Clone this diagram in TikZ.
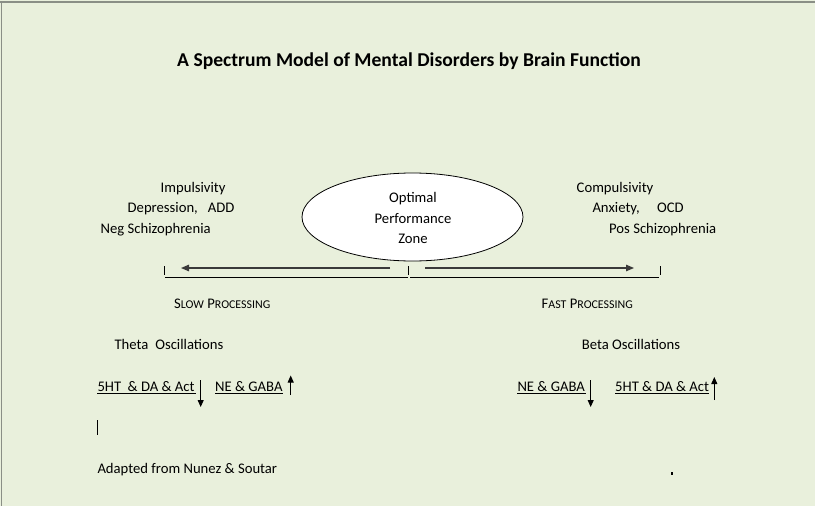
\documentclass[tikz,border=0pt]{standalone}
\usepackage{fontspec}
\setmainfont{Carlito}
\usetikzlibrary{arrows.meta}
\definecolor{bg}{HTML}{E9F0DC}
\definecolor{frame}{HTML}{8A8F86}
\definecolor{arr}{HTML}{3A3A3A}
\newcommand{\mysc}[2]{{\fontsize{14.67}{17}\selectfont #1}{\fontsize{11.9}{14}\selectfont #2}}
\begin{document}
\begin{tikzpicture}[x=1pt,y=-1pt,
  lbl/.style={anchor=base west,inner sep=0pt,font=\fontsize{14.67}{17}\selectfont},
  ctr/.style={anchor=base,inner sep=0pt,font=\fontsize{14.67}{17}\selectfont},
  ttl/.style={anchor=base,inner sep=0pt,font=\bfseries\fontsize{19.6}{22}\selectfont},
  uline/.style={line width=0.9pt},
  vtip/.style={-{Triangle[length=7pt,width=6pt]},line width=0.9pt},
  htip/.style={-{Triangle[length=8pt,width=6.5pt]},line width=1.3pt,draw=arr},
  tick/.style={line width=1pt}]
\useasboundingbox (0,0) rectangle (815,506);
\fill[bg] (0,0) rectangle (815,506);
\draw[frame,line width=1.2pt] (0,2) -- (815,2);
\draw[frame,line width=1pt] (1,2) -- (1,506);

% title
\node[ttl] (title) at (409,66.5) {A Spectrum Model of Mental Disorders by Brain Function};

% ellipse
\draw[line width=0.8pt,fill=white] (412.5,217) ellipse [x radius=110.5, y radius=44];
\node[ctr] (opt) at (413,202.5) {Optimal};
\node[ctr] (perf) at (413,223) {Performance};
\node[ctr] (zonet) at (413,243.3) {Zone};

% left labels
\node[lbl] (imp) at (160.5,192.7) {Impulsivity};
\node[lbl] (dep) at (127.5,212.7) {Depression,\hspace{10pt}ADD};
\node[lbl] (neg) at (100.5,233) {Neg Schizophrenia};
% right labels
\node[lbl] (comp) at (576.5,192.7) {Compulsivity};
\node[lbl] (anx) at (592.3,212.7) {Anxiety,\hspace{17.5pt}OCD};
\node[lbl] (pos) at (609,233) {Pos Schizophrenia};

% scale
\coordinate (tl1) at (164,266); \coordinate (tl2) at (164,275);
\coordinate (tm1) at (408.5,266); \coordinate (tm2) at (408.5,275);
\coordinate (tr1) at (660,266); \coordinate (tr2) at (660,275);
\draw[tick] (tl1) -- (tl2);
\draw[tick] (tm1) -- (tm2);
\draw[tick] (tr1) -- (tr2);
\coordinate (la) at (390,268); \coordinate (lb) at (181,268);
\coordinate (ra) at (425,268); \coordinate (rb) at (634,268);
\draw[htip] (la) -- (lb);
\draw[htip] (ra) -- (rb);
\coordinate (b1) at (165,277.3); \coordinate (b2) at (407.5,277.3);
\coordinate (b3) at (410,277.3); \coordinate (b4) at (659,277.3);
\draw[line width=0.9pt] (b1) -- (b2);
\draw[line width=0.9pt] (b3) -- (b4);

% processing
\node[lbl] (slow) at (174,308.3) {\mysc{S}{LOW} \mysc{P}{ROCESSING}};
\node[lbl] (fast) at (541.5,308.3) {\mysc{F}{AST} \mysc{P}{ROCESSING}};

% oscillations
\node[lbl] (theta) at (114.3,349.3) {Theta\hspace{7pt}Oscillations};
\node[lbl] (beta) at (581.7,349.3) {Beta Oscillations};

% neurotransmitters left
\node[lbl] (l5ht) at (97.3,391.2) {5HT\hspace{6.5pt}\& DA \& Act};
\node[lbl] (lne) at (215,391.2) {NE \& GABA};
\draw[uline] ([yshift=-2pt]l5ht.base west) -- ([xshift=1.5pt,yshift=-2pt]l5ht.base east);
\draw[uline] ([yshift=-2pt]lne.base west) -- ([yshift=-2pt]lne.base east);
\coordinate (ld1) at (200.7,380); \coordinate (ld2) at (200.7,407);
\coordinate (lu1) at (290.7,395); \coordinate (lu2) at (290.7,375.5);
\draw[vtip] (ld1) -- (ld2);
\draw[vtip] (lu1) -- (lu2);

% neurotransmitters right
\node[lbl] (rne) at (517.3,391.2) {NE \& GABA};
\node[lbl] (r5ht) at (615,391.2) {5HT \& DA \& Act};
\draw[uline] ([yshift=-2pt]rne.base west) -- ([xshift=1pt,yshift=-2pt]rne.base east);
\draw[uline] ([yshift=-2pt]r5ht.base west) -- ([yshift=-2pt]r5ht.base east);
\coordinate (rd1) at (590.7,380); \coordinate (rd2) at (590.7,407);
\coordinate (ru1) at (714.3,400); \coordinate (ru2) at (714.3,377);
\draw[vtip] (rd1) -- (rd2);
\draw[vtip] (ru1) -- (ru2);

% cursor and footer
\coordinate (c1) at (97.5,420); \coordinate (c2) at (97.5,435);
\draw[line width=0.9pt] (c1) -- (c2);
\node[lbl] (adapt) at (97.3,473.3) {Adapted from Nunez \& Soutar};
\fill (670.5,472) rectangle (672.5,474.5);
\end{tikzpicture}
\end{document}
